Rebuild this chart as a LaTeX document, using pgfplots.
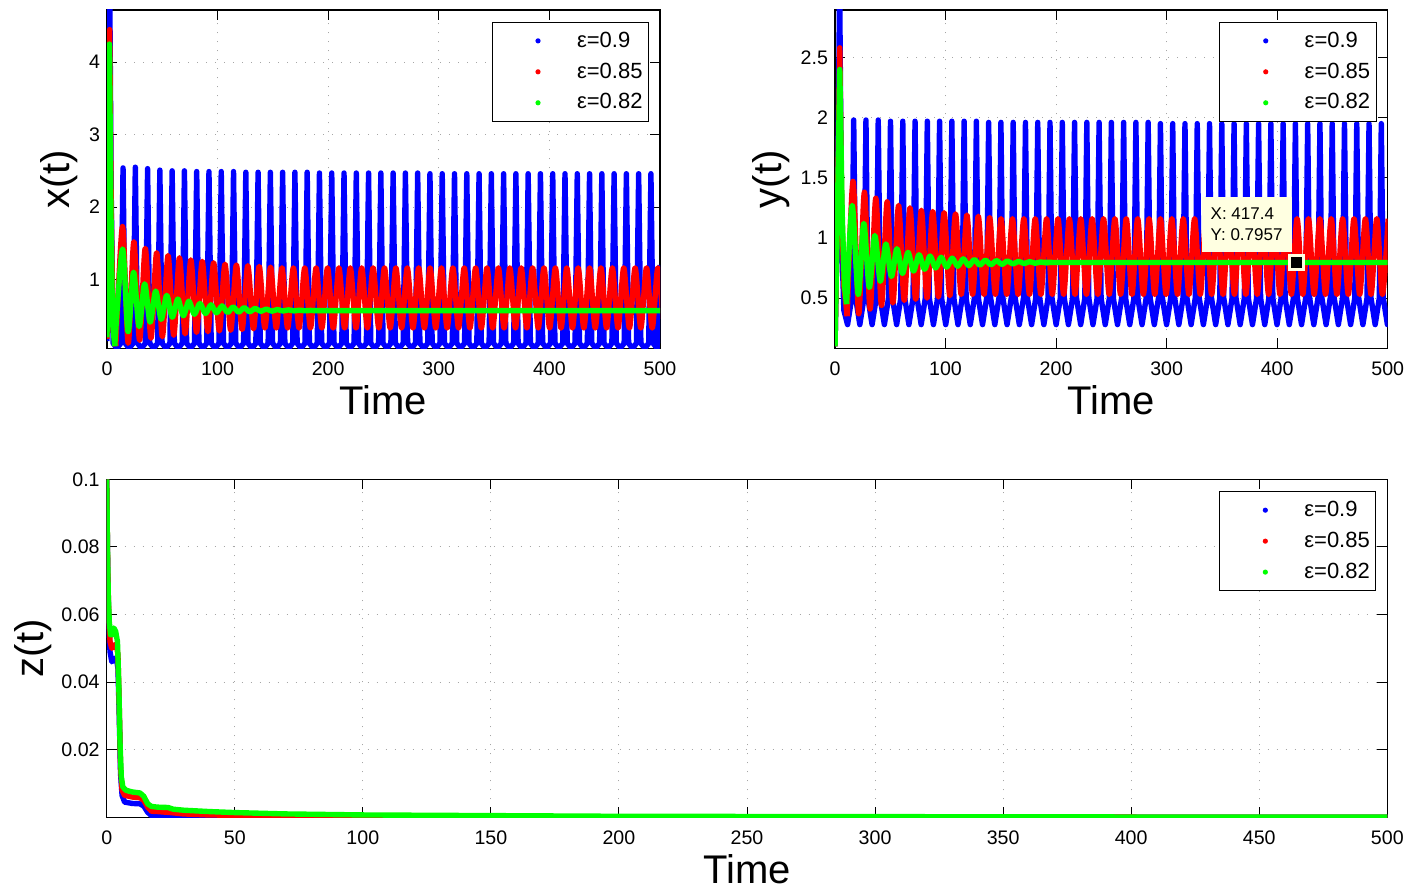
\documentclass[border=0pt]{standalone}
\usepackage{fontspec}
\setmainfont{Liberation Sans}
\usepackage{pgfplots}
\pgfplotsset{compat=1.18}
\definecolor{mblue}{RGB}{0,0,255}
\definecolor{mred}{RGB}{255,0,0}
\definecolor{mgreen}{RGB}{0,255,0}
\definecolor{tipbg}{RGB}{255,255,225}
\pgfplotsset{
  mstyle/.style={
    scale only axis,
    xmin=0, xmax=500,
    axis line style={line width=0.6pt},
    every tick/.style={black, line width=0.5pt},
    major tick length=5pt,
    tick align=inside,
    grid=major,
    grid style={gray!70, line width=0.5pt, dash pattern=on 0.6pt off 3.9pt},
    /pgf/number format/assume math mode=true,
    tick label style={font=\fontsize{9.8}{11}\selectfont},
    xticklabel style={anchor=base, yshift=-13.8pt},
    label style={font=\fontsize{20}{24}\selectfont},
    xlabel style={at={(axis description cs:0.5,0)}, anchor=base, yshift=-33.3pt},
    legend style={at={(1,1)}, anchor=north east, xshift=-5.5pt, yshift=-6pt, draw=black, line width=0.5pt, font=\fontsize{11}{12.5}\selectfont, inner xsep=1pt, inner ysep=2.6pt, row sep=2.3pt},
    legend cell align=left,
  },
  ser/.style={line width=2.7pt, line join=round,
    legend image code/.code={\path[draw=none, fill=none] (0pt,0pt) -- (39.5pt,0pt); \path[##1, draw=none, mark=none, line width=0pt, fill] (22pt,0pt) circle (1.3pt);}},
}
\begin{document}
\begin{tikzpicture}
\path[use as bounding box] (0,0) rectangle (705.5pt,445pt);
% ---------------- x(t) ----------------
\begin{axis}[mstyle, at={(53.5pt,270.85pt)}, anchor=south west, width=276.5pt, height=169.15pt,
  ymin=0.05, ymax=4.72, xtick={0,100,...,500}, ytick={1,2,3,4},
  xlabel={Time}, ylabel={x(t)}, ylabel style={at={(axis description cs:-0.0868,0.5)}, anchor=center}]
\addplot[ser, mblue] coordinates {
(0,0.15)(1.2,2.6)(2.4,5.2)(3.8,2.2)(5.5,0.12)(8.95,0.05)
(12.5,0.12)(14.5,2.54)(16.5,0.12)(20.05,0.05)
(23.6,0.12)(25.6,2.55)(27.6,0.12)(31.15,0.05)
(34.7,0.12)(36.7,2.53)(38.7,0.12)(42.25,0.05)
(45.8,0.12)(47.8,2.51)(49.8,0.12)(53.35,0.05)
(56.9,0.12)(58.9,2.5)(60.9,0.12)(64.45,0.05)
(68,0.12)(70,2.5)(72,0.12)(75.55,0.05)
(79.1,0.12)(81.1,2.49)(83.1,0.12)(86.65,0.05)
(90.2,0.12)(92.2,2.49)(94.2,0.12)(97.75,0.05)
(101.3,0.12)(103.3,2.49)(105.3,0.12)(108.85,0.05)
(112.4,0.12)(114.4,2.49)(116.4,0.12)(119.95,0.05)
(123.5,0.12)(125.5,2.48)(127.5,0.12)(131.05,0.05)
(134.6,0.12)(136.6,2.48)(138.6,0.12)(142.15,0.05)
(145.7,0.12)(147.7,2.48)(149.7,0.12)(153.25,0.05)
(156.8,0.12)(158.8,2.48)(160.8,0.12)(164.35,0.05)
(167.9,0.12)(169.9,2.48)(171.9,0.12)(175.45,0.05)
(179,0.12)(181,2.48)(183,0.12)(186.55,0.05)
(190.1,0.12)(192.1,2.47)(194.1,0.12)(197.65,0.05)
(201.2,0.12)(203.2,2.47)(205.2,0.12)(208.75,0.05)
(212.3,0.12)(214.3,2.47)(216.3,0.12)(219.85,0.05)
(223.4,0.12)(225.4,2.47)(227.4,0.12)(230.95,0.05)
(234.5,0.12)(236.5,2.47)(238.5,0.12)(242.05,0.05)
(245.6,0.12)(247.6,2.47)(249.6,0.12)(253.15,0.05)
(256.7,0.12)(258.7,2.47)(260.7,0.12)(264.25,0.05)
(267.8,0.12)(269.8,2.47)(271.8,0.12)(275.35,0.05)
(278.9,0.12)(280.9,2.47)(282.9,0.12)(286.45,0.05)
(290,0.12)(292,2.46)(294,0.12)(297.55,0.05)
(301.1,0.12)(303.1,2.46)(305.1,0.12)(308.65,0.05)
(312.2,0.12)(314.2,2.46)(316.2,0.12)(319.75,0.05)
(323.3,0.12)(325.3,2.46)(327.3,0.12)(330.85,0.05)
(334.4,0.12)(336.4,2.46)(338.4,0.12)(341.95,0.05)
(345.5,0.12)(347.5,2.46)(349.5,0.12)(353.05,0.05)
(356.6,0.12)(358.6,2.46)(360.6,0.12)(364.15,0.05)
(367.7,0.12)(369.7,2.46)(371.7,0.12)(375.25,0.05)
(378.8,0.12)(380.8,2.46)(382.8,0.12)(386.35,0.05)
(389.9,0.12)(391.9,2.46)(393.9,0.12)(397.45,0.05)
(401,0.12)(403,2.46)(405,0.12)(408.55,0.05)
(412.1,0.12)(414.1,2.46)(416.1,0.12)(419.65,0.05)
(423.2,0.12)(425.2,2.46)(427.2,0.12)(430.75,0.05)
(434.3,0.12)(436.3,2.46)(438.3,0.12)(441.85,0.05)
(445.4,0.12)(447.4,2.46)(449.4,0.12)(452.95,0.05)
(456.5,0.12)(458.5,2.46)(460.5,0.12)(464.05,0.05)
(467.6,0.12)(469.6,2.46)(471.6,0.12)(475.15,0.05)
(478.7,0.12)(480.7,2.46)(482.7,0.12)(486.25,0.05)
(489.8,0.12)(491.8,2.46)(493.8,0.12)(497.35,0.05)
(499,0.6)(500,1.2)};
\addlegendentry{ε=0.9}
\addplot[ser, mred, forget plot] coordinates {(0,0.18)(1.2,2.3)(2.4,4.45)(3.8,2.0)(5.5,0.3)(8,0.08)};
\addplot[ser, mred, smooth] coordinates {
(8,0.08)(14,1.73)(19.15,0.12)(24.3,1.52)(29.45,0.16)(34.6,1.43)(39.75,0.19)(44.9,1.37)(50.05,0.21)(55.2,1.33)(60.35,0.23)(65.5,1.30)(70.65,0.25)(75.8,1.27)(80.95,0.27)(86.1,1.25)(91.25,0.28)(96.4,1.23)(101.55,0.29)(106.7,1.21)(111.85,0.30)(117,1.20)(122.15,0.31)(127.3,1.19)(132.45,0.32)(137.6,1.18)(142.75,0.33)(147.9,1.17)(153.05,0.33)(158.2,1.16)(163.35,0.33)(168.5,1.16)(173.65,0.33)(178.8,1.16)(183.95,0.33)(189.1,1.16)(194.25,0.33)(199.4,1.16)(204.55,0.33)(209.7,1.16)(214.85,0.33)(220,1.16)(225.15,0.33)(230.3,1.16)(235.45,0.33)(240.6,1.16)(245.75,0.33)(250.9,1.16)(256.05,0.33)(261.2,1.16)(266.35,0.33)(271.5,1.16)(276.65,0.33)(281.8,1.16)(286.95,0.33)(292.1,1.16)(297.25,0.33)(302.4,1.16)(307.55,0.33)(312.7,1.16)(317.85,0.33)(323,1.16)(328.15,0.33)(333.3,1.16)(338.45,0.33)(343.6,1.16)(348.75,0.33)(353.9,1.16)(359.05,0.33)(364.2,1.16)(369.35,0.33)(374.5,1.16)(379.65,0.33)(384.8,1.16)(389.95,0.33)(395.1,1.16)(400.25,0.33)(405.4,1.16)(410.55,0.33)(415.7,1.16)(420.85,0.33)(426,1.16)(431.15,0.33)(436.3,1.16)(441.45,0.33)(446.6,1.16)(451.75,0.33)(456.9,1.16)(462.05,0.33)(467.2,1.16)(472.35,0.33)(477.5,1.16)(482.65,0.33)(487.8,1.16)(492.95,0.33)(498.1,1.16)(503.25,0.33)};
\addlegendentry{ε=0.85}
\addplot[ser, mgreen, forget plot] coordinates {(0,0.2)(1.1,2.2)(2.2,4.25)(3.5,2.0)(5,0.4)(7,0.08)};
\addplot[ser, mgreen, smooth] coordinates {
(7,0.08)(14,1.42)(19,0.28)(24,1.10)(29,0.35)(34,0.94)(39,0.41)(44,0.84)(49,0.45)(54,0.78)(59,0.48)(64,0.73)(69,0.50)(74,0.70)(79,0.52)(84,0.67)(89,0.53)(94,0.65)(99,0.54)(104,0.635)(109,0.545)(114,0.62)(119,0.55)(124,0.61)(129,0.555)(134,0.60)(139,0.56)(144,0.592)(149,0.562)(154,0.585)(159,0.565)(164,0.58)(169,0.567)(174,0.576)(179,0.568)(184,0.573)(189,0.569)(194,0.571)(210,0.57)(500,0.57)};
\addlegendentry{ε=0.82}
\end{axis}
% ---------------- y(t) ----------------
\begin{axis}[mstyle, at={(417.5pt,270.85pt)}, anchor=south west, width=276.35pt, height=169.15pt,
  ymin=0.083, ymax=2.894, xtick={0,100,...,500}, ytick={0.5,1,1.5,2,2.5},
  xlabel={Time}, ylabel={y(t)}, ylabel style={at={(axis description cs:-0.1157,0.5)}, anchor=center}]
\addplot[ser, mblue] coordinates {
(0,0.1)(2.2,1.2)(4.2,3.1)(6,1.0)(8,0.4)(11.35,0.28)
(15.1,0.5)(16.9,1.98)(18.7,0.5)(22.45,0.28)
(26.2,0.5)(28,1.98)(29.8,0.5)(33.55,0.28)
(37.3,0.5)(39.1,1.98)(40.9,0.5)(44.65,0.28)
(48.4,0.5)(50.2,1.97)(52,0.5)(55.75,0.28)
(59.5,0.5)(61.3,1.97)(63.1,0.5)(66.85,0.28)
(70.6,0.5)(72.4,1.97)(74.2,0.5)(77.95,0.28)
(81.7,0.5)(83.5,1.97)(85.3,0.5)(89.05,0.28)
(92.8,0.5)(94.6,1.97)(96.4,0.5)(100.15,0.28)
(103.9,0.5)(105.7,1.97)(107.5,0.5)(111.25,0.28)
(115,0.5)(116.8,1.97)(118.6,0.5)(122.35,0.28)
(126.1,0.5)(127.9,1.97)(129.7,0.5)(133.45,0.28)
(137.2,0.5)(139,1.96)(140.8,0.5)(144.55,0.28)
(148.3,0.5)(150.1,1.96)(151.9,0.5)(155.65,0.28)
(159.4,0.5)(161.2,1.96)(163,0.5)(166.75,0.28)
(170.5,0.5)(172.3,1.96)(174.1,0.5)(177.85,0.28)
(181.6,0.5)(183.4,1.96)(185.2,0.5)(188.95,0.28)
(192.7,0.5)(194.5,1.96)(196.3,0.5)(200.05,0.28)
(203.8,0.5)(205.6,1.96)(207.4,0.5)(211.15,0.28)
(214.9,0.5)(216.7,1.96)(218.5,0.5)(222.25,0.28)
(226,0.5)(227.8,1.96)(229.6,0.5)(233.35,0.28)
(237.1,0.5)(238.9,1.96)(240.7,0.5)(244.45,0.28)
(248.2,0.5)(250,1.96)(251.8,0.5)(255.55,0.28)
(259.3,0.5)(261.1,1.96)(262.9,0.5)(266.65,0.28)
(270.4,0.5)(272.2,1.96)(274,0.5)(277.75,0.28)
(281.5,0.5)(283.3,1.96)(285.1,0.5)(288.85,0.28)
(292.6,0.5)(294.4,1.95)(296.2,0.5)(299.95,0.28)
(303.7,0.5)(305.5,1.95)(307.3,0.5)(311.05,0.28)
(314.8,0.5)(316.6,1.95)(318.4,0.5)(322.15,0.28)
(325.9,0.5)(327.7,1.95)(329.5,0.5)(333.25,0.28)
(337,0.5)(338.8,1.95)(340.6,0.5)(344.35,0.28)
(348.1,0.5)(349.9,1.95)(351.7,0.5)(355.45,0.28)
(359.2,0.5)(361,1.95)(362.8,0.5)(366.55,0.28)
(370.3,0.5)(372.1,1.95)(373.9,0.5)(377.65,0.28)
(381.4,0.5)(383.2,1.95)(385,0.5)(388.75,0.28)
(392.5,0.5)(394.3,1.95)(396.1,0.5)(399.85,0.28)
(403.6,0.5)(405.4,1.95)(407.2,0.5)(410.95,0.28)
(414.7,0.5)(416.5,1.95)(418.3,0.5)(422.05,0.28)
(425.8,0.5)(427.6,1.95)(429.4,0.5)(433.15,0.28)
(436.9,0.5)(438.7,1.95)(440.5,0.5)(444.25,0.28)
(448,0.5)(449.8,1.95)(451.6,0.5)(455.35,0.28)
(459.1,0.5)(460.9,1.95)(462.7,0.5)(466.45,0.28)
(470.2,0.5)(472,1.95)(473.8,0.5)(477.55,0.28)
(481.3,0.5)(483.1,1.95)(484.9,0.5)(488.65,0.28)
(492.4,0.5)(494.2,1.95)(496,0.5)(499.75,0.28)(500,0.28)};
\addlegendentry{ε=0.9}
\addplot[ser, mred, forget plot] coordinates {(0,0.1)(2.3,1.3)(4.3,2.58)(6,1.3)(8,0.6)(11,0.35)};
\addplot[ser, mred, smooth] coordinates {
(11,0.35)(16.3,1.47)(21.45,0.37)(26.6,1.38)(31.75,0.41)(36.9,1.33)(42.05,0.44)(47.2,1.30)(52.35,0.46)(57.5,1.27)(62.65,0.48)(67.8,1.25)(72.95,0.49)(78.1,1.23)(83.25,0.50)(88.4,1.22)(93.55,0.51)(98.7,1.21)(103.85,0.52)(109,1.20)(114.15,0.53)(119.3,1.19)(124.45,0.53)(129.6,1.18)(134.75,0.53)(139.9,1.17)(145.05,0.53)(150.2,1.16)(155.35,0.53)(160.5,1.16)(165.65,0.53)(170.8,1.16)(175.95,0.53)(181.1,1.16)(186.25,0.53)(191.4,1.16)(196.55,0.53)(201.7,1.16)(206.85,0.53)(212,1.16)(217.15,0.53)(222.3,1.16)(227.45,0.53)(232.6,1.16)(237.75,0.53)(242.9,1.16)(248.05,0.53)(253.2,1.16)(258.35,0.53)(263.5,1.16)(268.65,0.53)(273.8,1.16)(278.95,0.53)(284.1,1.16)(289.25,0.53)(294.4,1.16)(299.55,0.53)(304.7,1.16)(309.85,0.53)(315,1.16)(320.15,0.53)(325.3,1.16)(330.45,0.53)(335.6,1.16)(340.75,0.53)(345.9,1.16)(351.05,0.53)(356.2,1.16)(361.35,0.53)(366.5,1.16)(371.65,0.53)(376.8,1.16)(381.95,0.53)(387.1,1.16)(392.25,0.53)(397.4,1.16)(402.55,0.53)(407.7,1.16)(412.85,0.53)(418,1.16)(423.15,0.53)(428.3,1.16)(433.45,0.53)(438.6,1.16)(443.75,0.53)(448.9,1.16)(454.05,0.53)(459.2,1.16)(464.35,0.53)(469.5,1.16)(474.65,0.53)(479.8,1.16)(484.95,0.53)(490.1,1.16)(495.25,0.53)(500.4,1.16)};
\addlegendentry{ε=0.85}
\addplot[ser, mgreen, forget plot] coordinates {(0,0.1)(2.2,1.2)(4.3,2.4)(6.5,1.2)(8.5,0.6)(10.5,0.45)};
\addplot[ser, mgreen, smooth] coordinates {
(10.5,0.45)(15.5,1.27)(21,0.53)(26,1.12)(31,0.59)(36,1.02)(41,0.64)(46,0.95)(51,0.68)(56,0.91)(61,0.705)(66,0.88)(71,0.725)(76,0.86)(81,0.74)(86,0.85)(91,0.75)(96,0.84)(101,0.758)(106,0.832)(111,0.765)(116,0.826)(121,0.77)(126,0.82)(131,0.775)(136,0.815)(141,0.778)(146,0.811)(151,0.781)(156,0.808)(161,0.784)(166,0.806)(171,0.787)(176,0.803)(181,0.79)(186,0.8)(191,0.793)(196,0.798)(210,0.7957)(500,0.7957)};
\addlegendentry{ε=0.82}
\node[fill=tipbg, anchor=south east, align=left, inner xsep=4.5pt, inner ysep=5.5pt,
  font=\fontsize{8.5}{10.5}\selectfont, xshift=-2.25pt, yshift=5pt] at (axis cs:417.4,0.7957) {X: 417.4\\Y: 0.7957};
\addplot[forget plot, only marks, mark=square*, mark size=3.6pt,
  mark options={fill=black, draw=tipbg, line width=1.35pt}] coordinates {(417.4,0.7957)};
\end{axis}
% ---------------- z(t) ----------------
\begin{axis}[mstyle, at={(53.35pt,36.35pt)}, anchor=south west, width=640.3pt, height=169pt,
  ymin=0, ymax=0.1, xtick={0,50,...,500}, ytick={0.02,0.04,0.06,0.08,0.1},
  scaled y ticks=false, yticklabel style={/pgf/number format/fixed, /pgf/number format/precision=2},
  xlabel={Time}, ylabel={z(t)}, ylabel style={at={(axis description cs:-0.0578,0.5)}, anchor=center}]
\addplot[ser, mblue] coordinates {
(0,0.1)(0.4,0.072)(0.8,0.058)(1.3,0.049)(2,0.046)(3,0.047)(3.8,0.047)(4.4,0.044)(4.9,0.03)(5.4,0.013)(6,0.0065)(7,0.0045)(10,0.0041)(13,0.004)(14.5,0.0033)(16,0.0015)(17.5,0.0005)(20,0.0004)(25,0.0004)(30,0.0002)(40,0.0001)(60,0.0001)(100,0)(500,0)};
\addlegendentry{ε=0.9}
\addplot[ser, mred] coordinates {
(0,0.1)(0.4,0.073)(0.8,0.06)(1.3,0.052)(2,0.05)(3,0.051)(3.8,0.051)(4.4,0.048)(4.9,0.033)(5.4,0.015)(6,0.008)(7,0.0065)(10,0.006)(13,0.0058)(14.5,0.005)(16,0.003)(17.5,0.0018)(20,0.0017)(25,0.0014)(30,0.001)(40,0.0007)(60,0.0005)(100,0.0003)(200,0.0001)(500,0)};
\addlegendentry{ε=0.85}
\addplot[ser, mgreen] coordinates {
(0,0.1)(0.3,0.08)(0.6,0.066)(1,0.058)(1.5,0.054)(2.2,0.054)(2.8,0.056)(3.5,0.055)(4.2,0.052)(4.7,0.04)(5.2,0.022)(5.7,0.012)(6.3,0.009)(7.5,0.008)(10,0.0075)(13,0.0072)(14.5,0.0062)(16,0.004)(17.5,0.0032)(20,0.003)(24,0.0029)(26,0.0024)(30,0.0021)(40,0.0017)(50,0.0014)(70,0.001)(100,0.0007)(150,0.0005)(200,0.0003)(300,0.0002)(400,0.0001)(500,0.0001)};
\addlegendentry{ε=0.82}
\end{axis}
\end{tikzpicture}
\end{document}
